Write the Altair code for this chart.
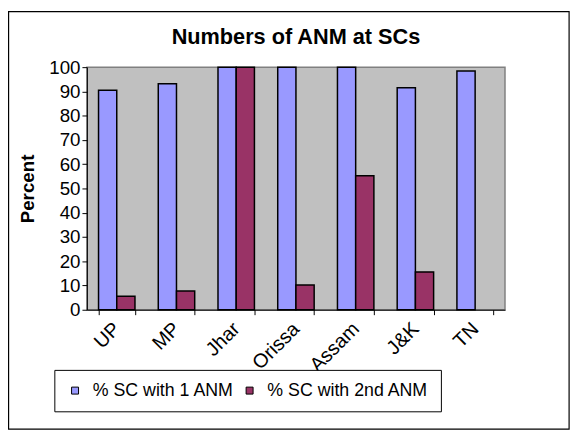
import altair as alt
import pandas as pd

states = ["UP", "MP", "Jhar", "Orissa", "Assam", "J&K", "TN"]
one_anm = [90.5, 93.2, 100, 100, 100, 91.5, 98.4]
second_anm = [5.6, 7.7, 100, 10.2, 55.2, 15.6, None]
series = ["% SC with 1 ANM", "% SC with 2nd ANM"]
chart_title = "Numbers of ANM at SCs"

rows = []
for s, a, b in zip(states, one_anm, second_anm):
    rows.append({"state": s, "series": series[0], "value": a})
    if b is not None:
        rows.append({"state": s, "series": series[1], "value": b})
df = pd.DataFrame(rows)

FONT = "Liberation Sans"

bars = alt.Chart(df).mark_bar(stroke="black", strokeWidth=1.5).encode(
    x=alt.X("state:N", sort=states, title=None,
            scale=alt.Scale(paddingInner=0.39, paddingOuter=0.195),
            axis=alt.Axis(labelAngle=-45, labelAlign="right", labelBaseline="middle",
                          labelOffset=0, labelPadding=11, tickSize=5, tickBand="extent",
                          labelFontSize=20, labelFont=FONT, labelColor="black",
                          domainColor="black", tickColor="black", grid=False)),
    xOffset=alt.XOffset("series:N", scale=alt.Scale(paddingInner=0, paddingOuter=0)),
    y=alt.Y("value:Q", scale=alt.Scale(domain=[0, 100]),
            axis=alt.Axis(values=list(range(0, 101, 10)), title="Percent",
                          titleFont=FONT, titleFontSize=19, titleFontWeight="bold",
                          titleColor="black", titleX=-54, titleY=123,
                          titleAngle=270, titleBaseline="alphabetic", titleAlign="center",
                          labelFontSize=19, labelFont=FONT, labelColor="black",
                          labelPadding=2, tickSize=5, domainColor="black",
                          tickColor="black", grid=False)),
    color=alt.Color("series:N", scale=alt.Scale(domain=series, range=["#9999FF", "#993366"]),
                    legend=alt.Legend(title=None, orient="none", legendX=-33, legendY=307,
                                      direction="horizontal", strokeColor="black",
                                      fillColor="white", padding=12, labelFontSize=18,
                                      labelFont=FONT, labelColor="black", labelLimit=0,
                                      symbolType="square",
                                      symbolSize=50, symbolStrokeColor="black",
                                      symbolStrokeWidth=1, symbolOpacity=1, labelOffset=9,
                                      columnPadding=6)),
)

border = alt.Chart(pd.DataFrame({"a": [0]})).mark_rect(
    filled=False, stroke="black", strokeWidth=1.2).encode(
    x=alt.value(-79.4), x2=alt.value(489), y=alt.value(-56.4), y2=alt.value(367))

title = alt.Chart(pd.DataFrame({"t": [chart_title]})).mark_text(
    align="center", baseline="alphabetic", font=FONT, fontSize=22, fontWeight="bold",
    color="black").encode(text="t:N", x=alt.value(212), y=alt.value(-23))

chart = alt.layer(border, title, bars).properties(
    width=424, height=246,
    autosize=alt.AutoSizeParams(type="none"),
    padding={"left": 80, "top": 57, "right": 72, "bottom": 122},
).configure_view(fill="#C0C0C0", stroke="#808080", strokeWidth=1.5)

chart.save("out.html", embed_options={"renderer": "svg", "actions": False})
